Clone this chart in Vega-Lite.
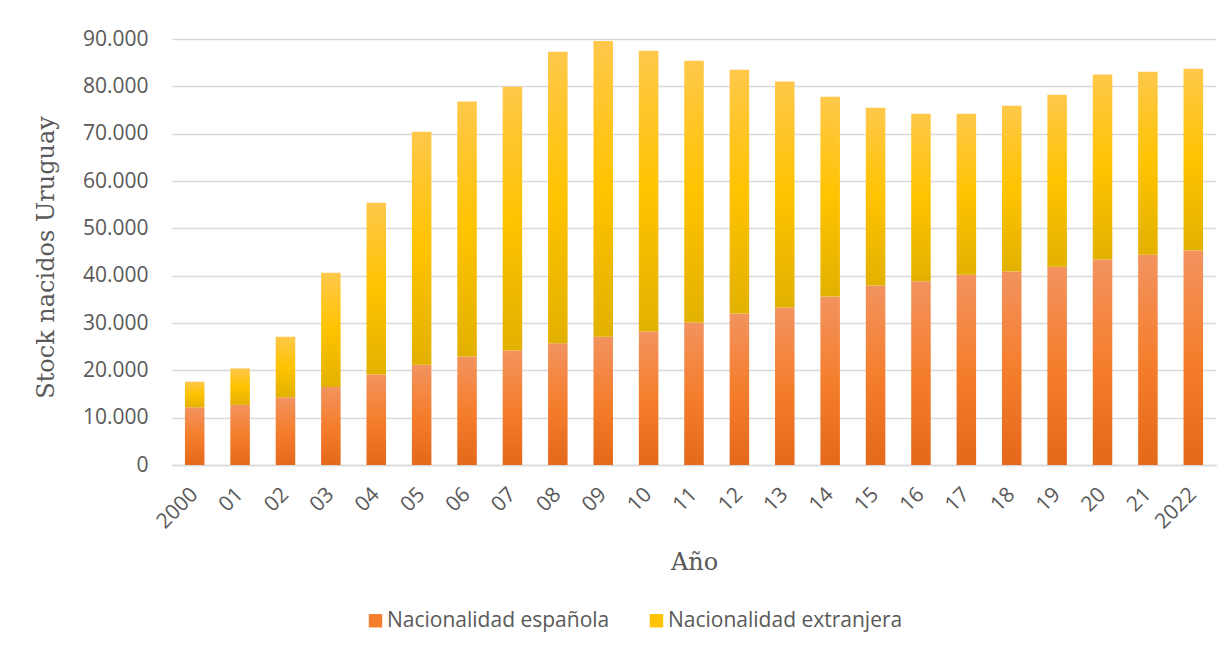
{
  "$schema": "https://vega.github.io/schema/vega-lite/v6.json",
  "autosize": "none",
  "width": 1044,
  "height": 426,
  "padding": {"left": 172, "top": 39, "right": 14, "bottom": 185},
  "background": "white",
  "data": {
    "values": [
      {"anio": "2000", "nacionalidad": "Nacionalidad española", "stock": 12200},
      {"anio": "2000", "nacionalidad": "Nacionalidad extranjera", "stock": 5400},
      {"anio": "01", "nacionalidad": "Nacionalidad española", "stock": 12700},
      {"anio": "01", "nacionalidad": "Nacionalidad extranjera", "stock": 7700},
      {"anio": "02", "nacionalidad": "Nacionalidad española", "stock": 14300},
      {"anio": "02", "nacionalidad": "Nacionalidad extranjera", "stock": 12800},
      {"anio": "03", "nacionalidad": "Nacionalidad española", "stock": 16500},
      {"anio": "03", "nacionalidad": "Nacionalidad extranjera", "stock": 24100},
      {"anio": "04", "nacionalidad": "Nacionalidad española", "stock": 19100},
      {"anio": "04", "nacionalidad": "Nacionalidad extranjera", "stock": 36300},
      {"anio": "05", "nacionalidad": "Nacionalidad española", "stock": 21200},
      {"anio": "05", "nacionalidad": "Nacionalidad extranjera", "stock": 49200},
      {"anio": "06", "nacionalidad": "Nacionalidad española", "stock": 22900},
      {"anio": "06", "nacionalidad": "Nacionalidad extranjera", "stock": 53900},
      {"anio": "07", "nacionalidad": "Nacionalidad española", "stock": 24200},
      {"anio": "07", "nacionalidad": "Nacionalidad extranjera", "stock": 55700},
      {"anio": "08", "nacionalidad": "Nacionalidad española", "stock": 25700},
      {"anio": "08", "nacionalidad": "Nacionalidad extranjera", "stock": 61600},
      {"anio": "09", "nacionalidad": "Nacionalidad española", "stock": 27100},
      {"anio": "09", "nacionalidad": "Nacionalidad extranjera", "stock": 62500},
      {"anio": "10", "nacionalidad": "Nacionalidad española", "stock": 28200},
      {"anio": "10", "nacionalidad": "Nacionalidad extranjera", "stock": 59300},
      {"anio": "11", "nacionalidad": "Nacionalidad española", "stock": 30100},
      {"anio": "11", "nacionalidad": "Nacionalidad extranjera", "stock": 55300},
      {"anio": "12", "nacionalidad": "Nacionalidad española", "stock": 32000},
      {"anio": "12", "nacionalidad": "Nacionalidad extranjera", "stock": 51500},
      {"anio": "13", "nacionalidad": "Nacionalidad española", "stock": 33300},
      {"anio": "13", "nacionalidad": "Nacionalidad extranjera", "stock": 47700},
      {"anio": "14", "nacionalidad": "Nacionalidad española", "stock": 35600},
      {"anio": "14", "nacionalidad": "Nacionalidad extranjera", "stock": 42200},
      {"anio": "15", "nacionalidad": "Nacionalidad española", "stock": 37900},
      {"anio": "15", "nacionalidad": "Nacionalidad extranjera", "stock": 37600},
      {"anio": "16", "nacionalidad": "Nacionalidad española", "stock": 38800},
      {"anio": "16", "nacionalidad": "Nacionalidad extranjera", "stock": 35400},
      {"anio": "17", "nacionalidad": "Nacionalidad española", "stock": 40200},
      {"anio": "17", "nacionalidad": "Nacionalidad extranjera", "stock": 34000},
      {"anio": "18", "nacionalidad": "Nacionalidad española", "stock": 40900},
      {"anio": "18", "nacionalidad": "Nacionalidad extranjera", "stock": 35000},
      {"anio": "19", "nacionalidad": "Nacionalidad española", "stock": 41900},
      {"anio": "19", "nacionalidad": "Nacionalidad extranjera", "stock": 36300},
      {"anio": "20", "nacionalidad": "Nacionalidad española", "stock": 43400},
      {"anio": "20", "nacionalidad": "Nacionalidad extranjera", "stock": 39100},
      {"anio": "21", "nacionalidad": "Nacionalidad española", "stock": 44400},
      {"anio": "21", "nacionalidad": "Nacionalidad extranjera", "stock": 38700},
      {"anio": "2022", "nacionalidad": "Nacionalidad española", "stock": 45300},
      {"anio": "2022", "nacionalidad": "Nacionalidad extranjera", "stock": 38400}
    ]
  },
  "encoding": {
    "x": {
      "field": "anio",
      "type": "ordinal",
      "sort": null,
      "scale": {"paddingInner": 0.57, "paddingOuter": 0.285},
      "axis": {
        "title": "Año",
        "labelAngle": -45,
        "labelAlign": "right",
        "labelBaseline": "middle",
        "labelPadding": 26,
        "ticks": false,
        "grid": false,
        "domain": true,
        "domainColor": "#D9D9D9",
        "domainWidth": 1.5,
        "titleX": 522,
        "titleY": 104,
        "titleAlign": "center",
        "titleBaseline": "alphabetic"
      }
    },
    "y": {
      "field": "stock",
      "type": "quantitative",
      "stack": "zero",
      "scale": {"domain": [0, 90000], "nice": false},
      "axis": {
        "title": "Stock nacidos Uruguay",
        "values": [0, 10000, 20000, 30000, 40000, 50000, 60000, 70000, 80000, 90000],
        "format": ",d",
        "ticks": false,
        "domain": false,
        "grid": true,
        "gridColor": "#D9D9D9",
        "gridWidth": 1.5,
        "labelPadding": 24,
        "titleX": -126,
        "titleY": 218,
        "titleAngle": 270,
        "titleAlign": "center",
        "titleBaseline": "middle"
      }
    }
  },
  "layer": [
    {
      "mark": {"type": "bar", "opacity": 0},
      "encoding": {
        "color": {
          "field": "nacionalidad",
          "type": "nominal",
          "scale": {
            "domain": ["Nacionalidad española", "Nacionalidad extranjera"],
            "range": ["#F57E2D", "#FFC300"]
          },
          "legend": {
            "title": null,
            "orient": "none",
            "direction": "horizontal",
            "legendX": 193,
            "legendY": 571,
            "symbolType": "square",
            "symbolSize": 180,
            "symbolStrokeWidth": 0,
            "symbolOpacity": 1,
            "labelOffset": 1,
            "columnPadding": 36,
            "labelFontSize": 21,
            "labelFont": "Open Sans",
            "labelColor": "#595959",
            "labelLimit": 400,
            "encode": {
              "symbols": {
                "update": {
                  "opacity": {"value": 1},
                  "fill": [
                    {
                      "test": "datum.value === 'Nacionalidad española'",
                      "value": {
                        "gradient": "linear",
                        "x1": 0, "y1": 0, "x2": 0, "y2": 1,
                        "stops": [
                          {"offset": 0, "color": "#F2935F"},
                          {"offset": 0.5, "color": "#F57E2D"},
                          {"offset": 1, "color": "#E4691A"}
                        ]
                      }
                    },
                    {
                      "value": {
                        "gradient": "linear",
                        "x1": 0, "y1": 0, "x2": 0, "y2": 1,
                        "stops": [
                          {"offset": 0, "color": "#FFC84A"},
                          {"offset": 0.5, "color": "#FFC300"},
                          {"offset": 1, "color": "#E2B100"}
                        ]
                      }
                    }
                  ]
                }
              }
            }
          }
        }
      }
    },
    {
      "mark": {"type": "bar"},
      "encoding": {
        "color": {"field": "nacionalidad", "type": "nominal"},
        "fill": {
          "condition": {
            "test": "datum.nacionalidad === 'Nacionalidad española'",
            "value": {
              "gradient": "linear",
              "x1": 0, "y1": 0, "x2": 0, "y2": 1,
              "stops": [
                {"offset": 0, "color": "#F2935F"},
                {"offset": 0.5, "color": "#F57E2D"},
                {"offset": 1, "color": "#E4691A"}
              ]
            }
          },
          "value": {
            "gradient": "linear",
            "x1": 0, "y1": 0, "x2": 0, "y2": 1,
            "stops": [
              {"offset": 0, "color": "#FFC84A"},
              {"offset": 0.5, "color": "#FFC300"},
              {"offset": 1, "color": "#E2B100"}
            ]
          }
        }
      }
    }
  ],
  "config": {
    "locale": {
      "number": {
        "decimal": ",",
        "thousands": ".",
        "grouping": [3],
        "currency": ["", " €"]
      }
    },
    "view": {"stroke": null},
    "axis": {
      "labelFont": "Open Sans",
      "labelFontSize": 21,
      "labelColor": "#595959",
      "titleFont": "DejaVu Serif",
      "titleFontSize": 24,
      "titleFontWeight": "normal",
      "titleColor": "#595959"
    }
  }
}
